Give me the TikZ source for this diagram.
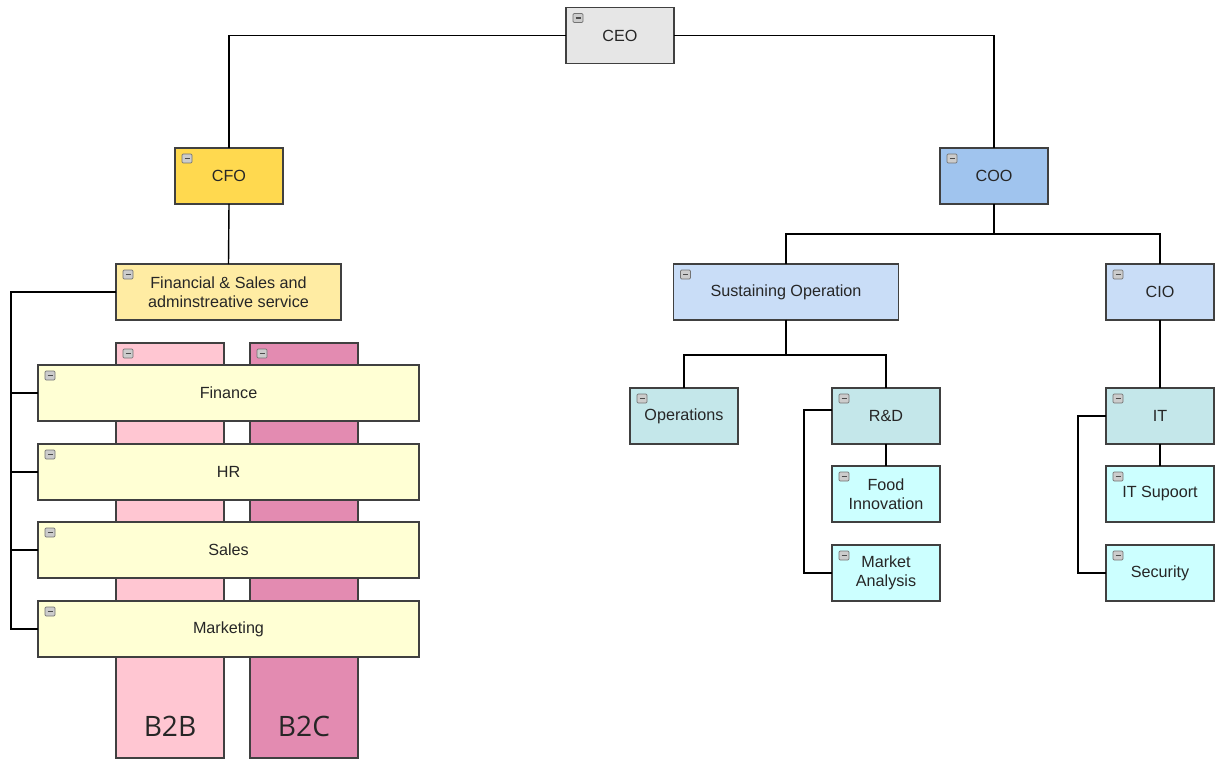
\documentclass[tikz,border=0pt]{standalone}
\usepackage{fontspec}
\setmainfont{Liberation Sans}
\newfontfamily\bigfont{Open Sans}
\definecolor{ceogray}{HTML}{E6E6E6}
\definecolor{cfogold}{HTML}{FFD94F}
\definecolor{cooblue}{HTML}{A0C4EE}
\definecolor{fsayellow}{HTML}{FFECA3}
\definecolor{lightblue}{HTML}{C9DDF7}
\definecolor{tealgray}{HTML}{C4E7EA}
\definecolor{paleaqua}{HTML}{CCFFFF}
\definecolor{paleyellow}{HTML}{FFFFD4}
\definecolor{b2bpink}{HTML}{FFC6D2}
\definecolor{b2cpink}{HTML}{E38BB1}

\begin{document}
\begin{tikzpicture}[x=0.02cm, y=-0.02cm,
    box/.style={draw=black!75, line width=0.7pt, inner sep=1pt, outer sep=0pt,
      minimum width=2.16cm, minimum height=1.12cm, align=center,
      font=\fontsize{9.2}{11}\selectfont, text=black!85},
    wide/.style={box, minimum width=4.5cm},
    long/.style={box, minimum width=7.62cm},
    column/.style={box, minimum height=8.3cm},
    wire/.style={line width=0.8pt},
    icon/.style={draw=black!55, fill=black!20, rounded corners=0.6pt, line width=0.4pt}]
   \useasboundingbox (0,0) rectangle (1219,759);
   % top level
   \node [box, fill=ceogray] (ceo) at (620,35.5) {CEO};
   \node [box, fill=cfogold] (cfo) at (229,176) {CFO};
   \node [box, fill=cooblue] (coo) at (994,176) {COO};
   % left branch
   \node [wide, fill=fsayellow] (fsa) at (228.5,292) {Financial \& Sales and\\adminstreative service};
   \node [column, fill=b2bpink, label={[anchor=south, inner sep=0pt, yshift=0.42cm, font=\bigfont\fontsize{16}{18}\selectfont, text=black!85]south:B2B}] (b2b) at (170,550.5) {};
   \node [column, fill=b2cpink, label={[anchor=south, inner sep=0pt, yshift=0.42cm, font=\bigfont\fontsize{16}{18}\selectfont, text=black!85]south:B2C}] (b2c) at (304,550.5) {};
   \node [long, fill=paleyellow] (finance) at (228.5,393) {Finance};
   \node [long, fill=paleyellow] (hr) at (228.5,472) {HR};
   \node [long, fill=paleyellow] (sales) at (228.5,550) {Sales};
   \node [long, fill=paleyellow] (marketing) at (228.5,629) {Marketing};
   % right branch
   \node [wide, fill=lightblue] (sust) at (786,292) {Sustaining Operation};
   \node [box, fill=lightblue] (cio) at (1160,292) {CIO};
   \node [box, fill=tealgray] (ops) at (684,416) {Operations};
   \node [box, fill=tealgray] (rnd) at (886,416) {R\&D};
   \node [box, fill=paleaqua] (food) at (886,494) {Food\\Innovation};
   \node [box, fill=paleaqua] (market) at (886,573) {Market\\Analysis};
   \node [box, fill=tealgray] (it) at (1160,416) {IT};
   \node [box, fill=paleaqua] (itsup) at (1160,494) {IT Supoort};
   \node [box, fill=paleaqua] (sec) at (1160,573) {Security};
   % connectors
   \draw [wire] (ceo.west) -| (cfo.north);
   \draw [wire] (ceo.east) -| (coo.north);
   \draw [wire] (cfo.south) -- (fsa.north);
   \foreach \c in {finance,hr,sales,marketing}
      \draw [wire] (fsa.west) -- ++(-105,0) |- (\c.west);
   \draw [wire] (coo.south) -- ++(0,30) -| (sust.north);
   \draw [wire] (coo.south) -- ++(0,30) -| (cio.north);
   \draw [wire] (sust.south) -- ++(0,35) -| (ops.north);
   \draw [wire] (sust.south) -- ++(0,35) -| (rnd.north);
   \draw [wire] (rnd.south) -- (food.north);
   \draw [wire] ([yshift=0.12cm]rnd.west) -- ++(-28,0) |- (market.west);
   \draw [wire] (cio.south) -- (it.north);
   \draw [wire] (it.south) -- (itsup.north);
   \draw [wire] (it.west) -- ++(-28,0) |- (sec.west);
   % collapse icons
   \foreach \n in {ceo,cfo,coo,fsa,b2b,b2c,finance,hr,sales,marketing,sust,cio,ops,rnd,food,market,it,itsup,sec} {
      \draw [icon] ([shift={(7,6)}]\n.north west) rectangle ++(10,9);
      \draw [line width=0.9pt, black!70] ([shift={(9.5,10.5)}]\n.north west) -- ++(5,0);
   }
\end{tikzpicture}
\end{document}
